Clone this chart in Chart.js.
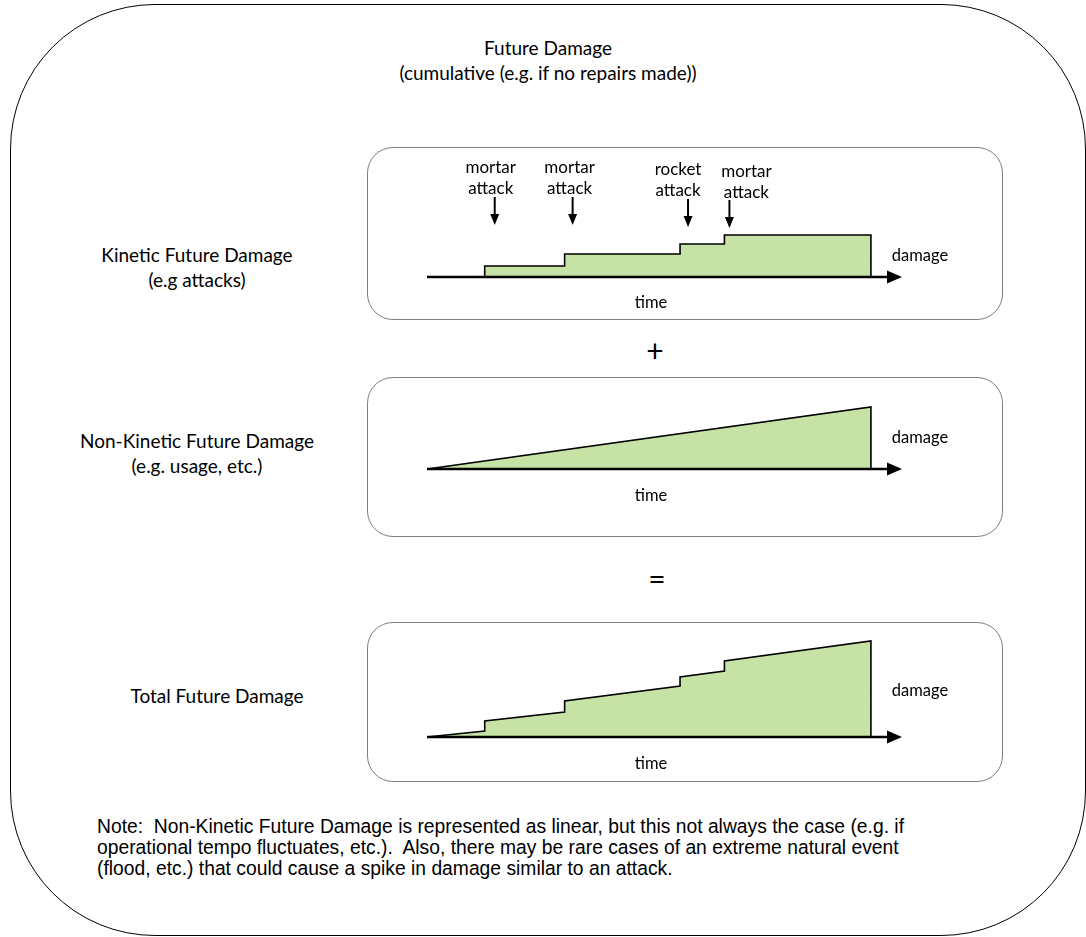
<!DOCTYPE html>
<html>
<head>
<meta charset="utf-8">
<script src="https://cdn.jsdelivr.net/npm/chart.js@4.4.1/dist/chart.umd.min.js"></script>
<style>
body { margin: 0; background: #fff; width: 1086px; height: 937px; position: relative; overflow: hidden; font-family: Lato, "Open Sans", sans-serif; color: #000; }
.outer { position: absolute; left: 10px; top: 4px; width: 1076px; height: 932px; border: 1.6px solid #000; border-radius: 145px; box-sizing: border-box; }
.box { position: absolute; left: 367px; width: 636px; border: 1.6px solid #808080; border-radius: 26px; box-sizing: border-box; }
.lbl { position: absolute; text-align: center; white-space: nowrap; transform: translate(-50%, -50%); line-height: 1; }
.big { font-size: 19px; }
.small { font-size: 17px; }
.axis { font-size: 16.5px; }
canvas { position: absolute; left: 367px; }
.note { position: absolute; left: 97px; top: 816px; font-family: "Liberation Sans", Arial, sans-serif; font-size: 19.3px; line-height: 21px; white-space: nowrap; }
</style>
</head>
<body>
<div class="outer"></div>
<div class="box" style="top:147px;height:173px"></div>
<div class="box" style="top:377px;height:160px"></div>
<div class="box" style="top:622px;height:160px"></div>

<div class="lbl big" style="left:548px;top:47px">Future Damage</div>
<div class="lbl big" style="left:548px;top:72px">(cumulative (e.g. if no repairs made))</div>

<div class="lbl big" style="left:197px;top:254px">Kinetic Future Damage</div>
<div class="lbl big" style="left:197px;top:279px">(e.g attacks)</div>
<div class="lbl big" style="left:197px;top:440px">Non-Kinetic Future Damage</div>
<div class="lbl big" style="left:197px;top:465px">(e.g. usage, etc.)</div>
<div class="lbl big" style="left:217px;top:695px">Total Future Damage</div>

<div class="lbl" style="left:655px;top:350px;font-size:30px">+</div>
<div class="lbl" style="left:657px;top:578px;font-size:30px">=</div>

<canvas id="kinetic" width="636" height="173" style="top:147px"></canvas>
<canvas id="nonKinetic" width="636" height="160" style="top:377px"></canvas>
<canvas id="total" width="636" height="160" style="top:622px"></canvas>

<div class="note">Note:&nbsp; Non-Kinetic Future Damage is represented as linear, but this not always the case (e.g. if<br>operational tempo fluctuates, etc.).&nbsp; Also, there may be rare cases of an extreme natural event<br>(flood, etc.) that could cause a spike in damage similar to an attack.</div>

<script>
// time runs 0..100, damage in arbitrary units
const endTime = 100;
const attackTimes = [13, 31, 57, 67];
const attackNames = ['mortar', 'mortar', 'rocket', 'mortar'];
const kineticLevels = [0, 11, 23, 33, 42];

const nonKineticTimes = [0, 100];
const nonKineticValues = [0, 62];

const totalTimes = [0, 13, 13, 31, 31, 57, 57, 67, 67, 100];
const totalValues = [0, 6, 16, 25, 36, 51, 60, 66, 76, 96];

const fillColor = '#c6e3a5';

function kineticPoints() {
    let pts = [{x: attackTimes[0], y: 0}];
    attackTimes.forEach((t, i) => {
        pts.push({x: t, y: kineticLevels[i]});
        pts.push({x: t, y: kineticLevels[i + 1]});
    });
    pts.push({x: endTime, y: kineticLevels[kineticLevels.length - 1]});
    pts.push({x: endTime, y: 0});
    return pts;
}

function zip(xs, ys) {
    let pts = xs.map((x, i) => ({x: x, y: ys[i]}));
    pts.push({x: endTime, y: 0});
    return pts;
}

// horizontal axis line with arrow head
const axisArrow = {
    id: 'axisArrow',
    afterDatasetsDraw(chart) {
        const ctx = chart.ctx;
        const a = chart.chartArea;
        const y0 = chart.scales.y.getPixelForValue(0);
        const x0 = chart.scales.x.getPixelForValue(0);
        ctx.save();
        ctx.strokeStyle = '#000';
        ctx.fillStyle = '#000';
        ctx.lineWidth = 2.5;
        ctx.beginPath();
        ctx.moveTo(x0, y0);
        ctx.lineTo(a.right - 10, y0);
        ctx.stroke();
        ctx.beginPath();
        ctx.moveTo(a.right, y0);
        ctx.lineTo(a.right - 15, y0 - 6.5);
        ctx.lineTo(a.right - 15, y0 + 6.5);
        ctx.closePath();
        ctx.fill();
        ctx.restore();
    }
};

// little down arrows over each attack
const attackArrows = {
    id: 'attackArrows',
    afterDatasetsDraw(chart, args, opts) {
        if (!opts.times) return;
        const ctx = chart.ctx;
        ctx.save();
        ctx.strokeStyle = '#000';
        ctx.fillStyle = '#000';
        ctx.lineWidth = 2;
        opts.times.forEach((t, i) => {
            const px = chart.scales.x.getPixelForValue(t) + opts.dx[i];
            const top = opts.top + opts.drop[i];
            const tip = opts.tip + opts.drop[i];
            ctx.beginPath();
            ctx.moveTo(px, top);
            ctx.lineTo(px, tip - 9);
            ctx.stroke();
            ctx.beginPath();
            ctx.moveTo(px, tip);
            ctx.lineTo(px - 4.5, tip - 11);
            ctx.lineTo(px + 4.5, tip - 11);
            ctx.closePath();
            ctx.fill();
        });
        ctx.restore();
    }
};

function damageChart(canvas, points, yMax, padTop, padBottom, arrows) {
    const config = {
        type: 'line',
        data: {
            datasets: [{
                data: points,
                borderColor: '#000',
                borderWidth: 1.6,
                backgroundColor: fillColor,
                fill: 'origin',
                pointRadius: 0,
                tension: 0,
                borderJoinStyle: 'miter'
            }]
        },
        options: {
            responsive: false,
            animation: false,
            layout: {
                padding: {left: 60, right: 101, top: padTop, bottom: padBottom}
            },
            plugins: {
                legend: {display: false},
                tooltip: {enabled: false},
                attackArrows: arrows || {}
            },
            scales: {
                x: {type: 'linear', min: 0, max: 107, display: false},
                y: {type: 'linear', min: 0, max: yMax, display: false}
            }
        },
        plugins: [axisArrow, attackArrows]
    };
    return new Chart(canvas.getContext('2d'), config);
}

const arrowOpts = {times: attackTimes, dx: [10, 8, 8, 5], drop: [0, 0, 2, 3], top: 50, tip: 78};
const kineticChart = damageChart(document.getElementById('kinetic'), kineticPoints(), 100, 30, 43, arrowOpts);
damageChart(document.getElementById('nonKinetic'), zip(nonKineticTimes, nonKineticValues), 80, 12, 68);
damageChart(document.getElementById('total'), zip(totalTimes, totalValues), 110, 5, 45);

function addLabel(text, x, y, cls) {
    const d = document.createElement('div');
    d.className = 'lbl ' + cls;
    d.style.left = x + 'px';
    d.style.top = y + 'px';
    d.textContent = text;
    document.body.appendChild(d);
}

// attack names above the arrows
const labelDx = [6, 5, -2, 22];
const labelDrop = [0, 0, 2, 4];
attackTimes.forEach((t, i) => {
    const px = 367 + kineticChart.scales.x.getPixelForValue(t) + labelDx[i];
    addLabel(attackNames[i], px, 166 + labelDrop[i], 'small');
    addLabel('attack', px, 187 + labelDrop[i], 'small');
});

[[255, 302], [437, 495], [690, 763]].forEach(p => {
    addLabel('damage', 920, p[0], 'axis');
    addLabel('time', 651, p[1], 'axis');
});
</script>
</body>
</html>
